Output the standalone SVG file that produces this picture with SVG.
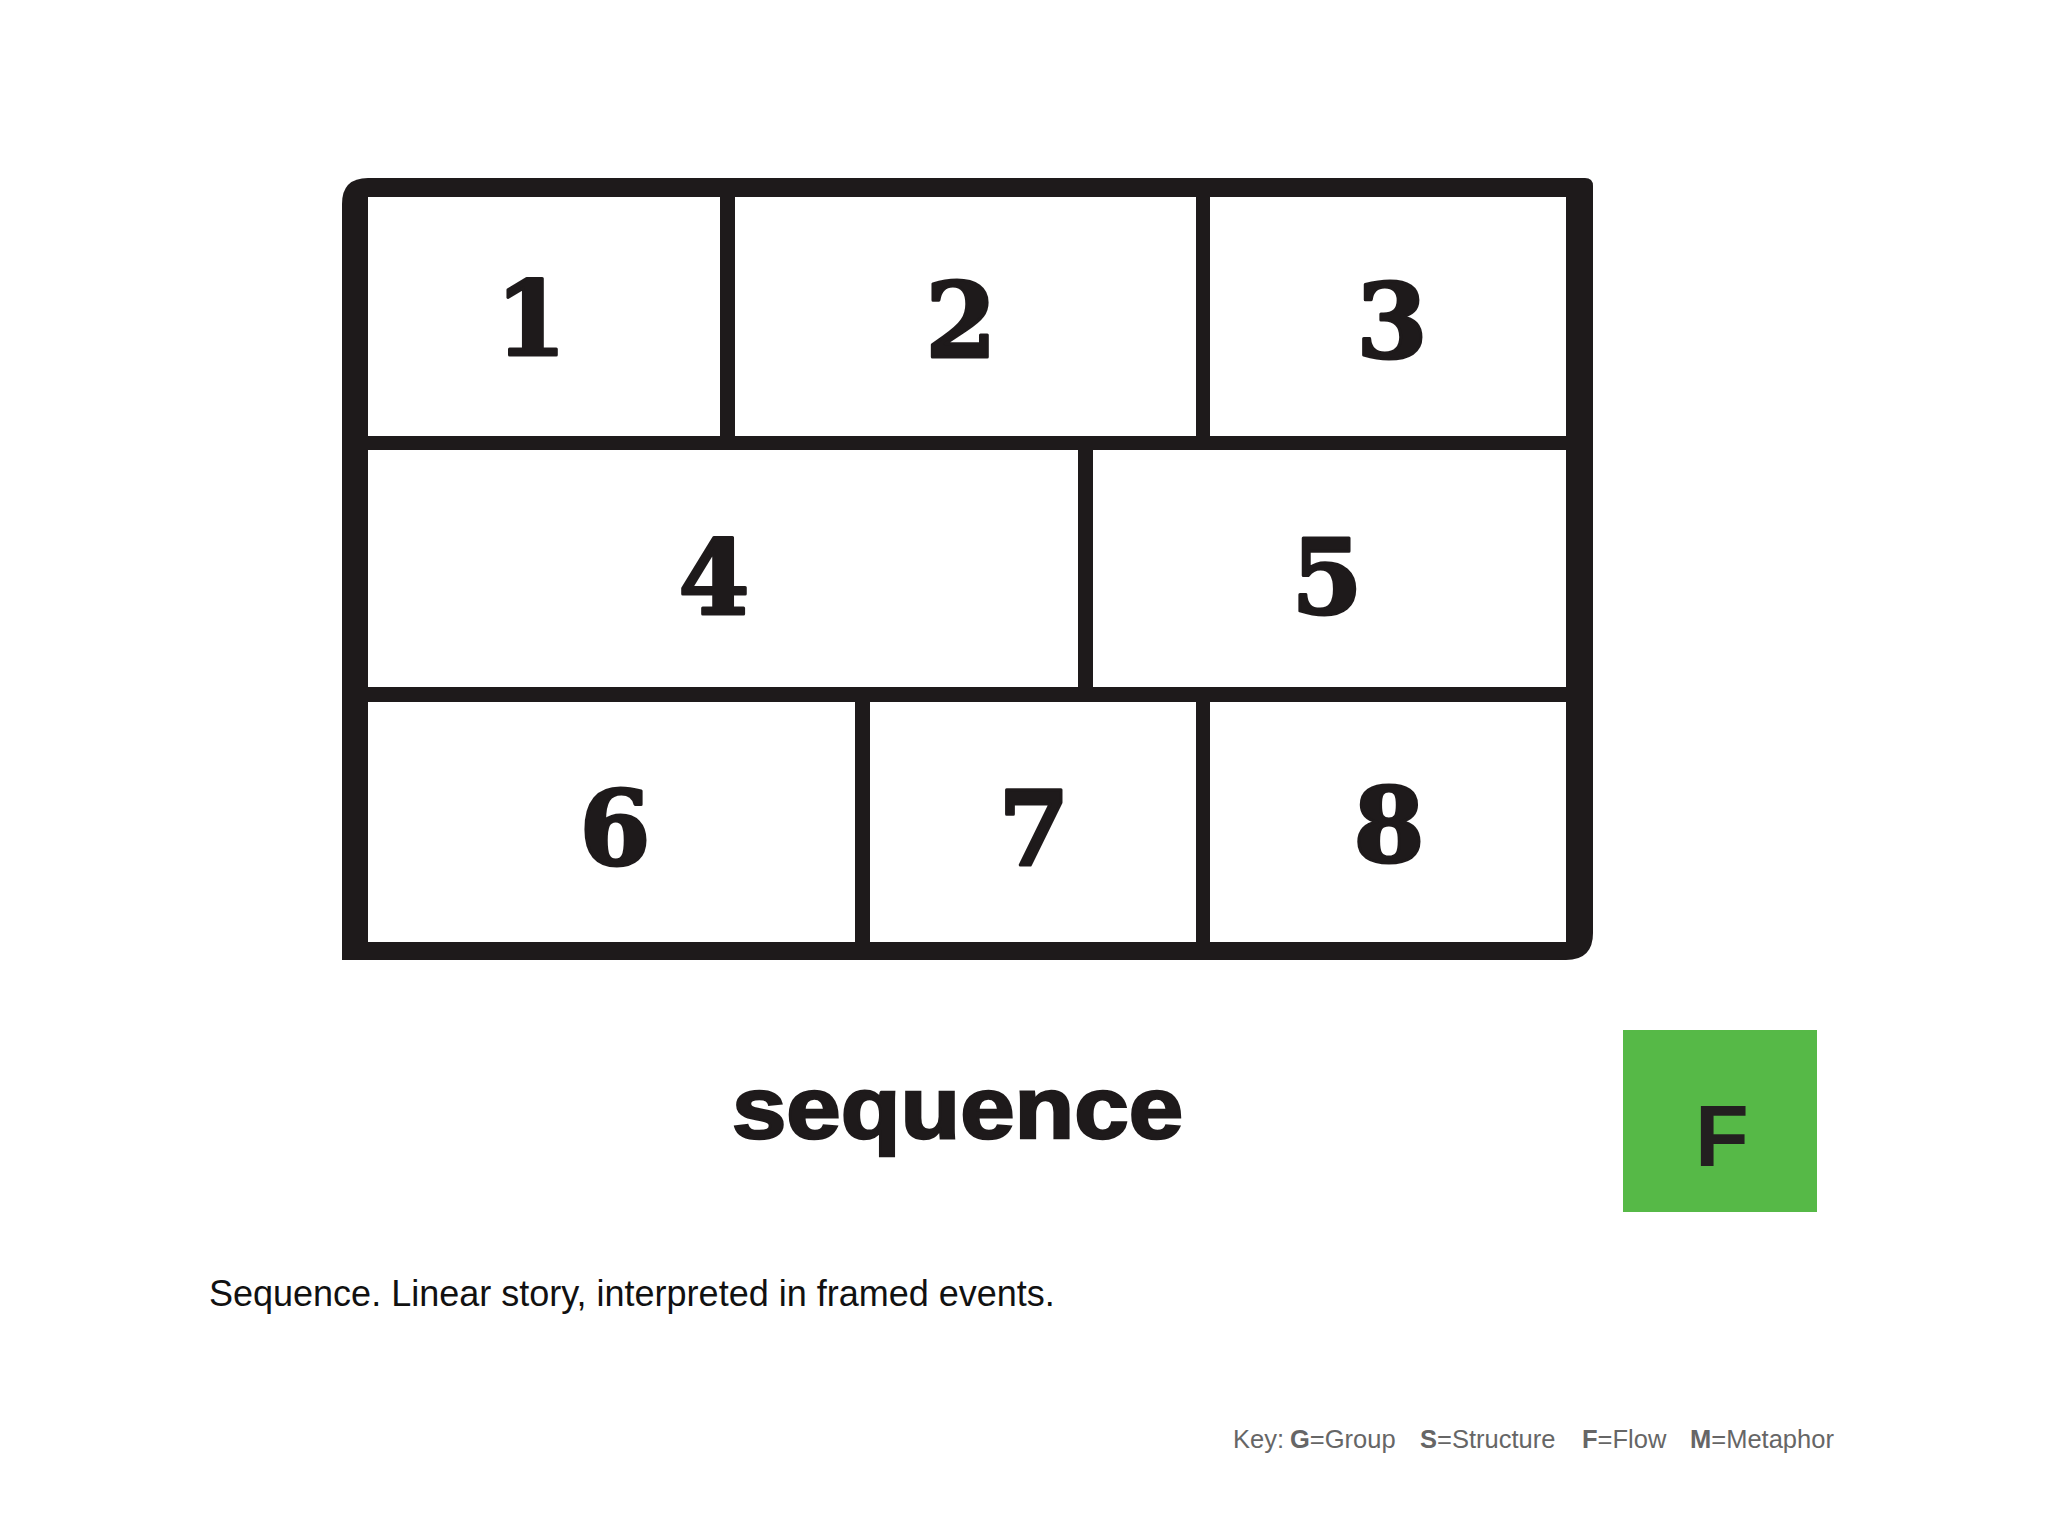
<svg xmlns="http://www.w3.org/2000/svg" width="2048" height="1536" viewBox="0 0 2048 1536">
<style>
.cell{fill:#ffffff}
.num{font-family:"DejaVu Serif",serif;font-weight:bold;font-size:102px;fill:#1e1a1b;stroke:#1e1a1b;stroke-width:3;stroke-linejoin:round;text-anchor:middle}
.cap{font-family:"Liberation Sans",Arial,sans-serif;font-size:36px;fill:#111111}
.key{font-family:"Liberation Sans",Arial,sans-serif;font-size:25.5px;fill:#666666}
.b{font-weight:bold}
</style>
<rect x="0" y="0" width="2048" height="1536" fill="#ffffff"/>
<g id="frame">
<path d="M342,204 Q342,178 368,178 L1585,178 Q1593,178 1593,186 L1593,933 Q1593,960 1566,960 L342,960 Z" fill="#1e1a1b"/>
</g>
<g id="cell1"><rect class="cell" x="368" y="197" width="352" height="239"/><text class="num" x="531" y="355">1</text></g>
<g id="cell2"><rect class="cell" x="735" y="197" width="461" height="239"/><text class="num" x="961" y="357">2</text></g>
<g id="cell3"><rect class="cell" x="1210" y="197" width="356" height="239"/><text class="num" x="1392" y="358">3</text></g>
<g id="cell4"><rect class="cell" x="368" y="450" width="710" height="237"/><text class="num" x="714" y="614">4</text></g>
<g id="cell5"><rect class="cell" x="1093" y="450" width="473" height="237"/><text class="num" x="1327" y="614">5</text></g>
<g id="cell6"><rect class="cell" x="368" y="702" width="487" height="240"/><text class="num" x="615" y="865">6</text></g>
<g id="cell7"><rect class="cell" x="870" y="702" width="326" height="240"/><text class="num" x="1034" y="865">7</text></g>
<g id="cell8"><rect class="cell" x="1210" y="702" width="356" height="240"/><text class="num" x="1389" y="862">8</text></g>
<g id="title"><text x="732" y="1138" font-family="'Liberation Sans',Arial,sans-serif" font-weight="bold" font-size="88" fill="#1e1a1b" stroke="#1e1a1b" stroke-width="2.5" textLength="451" lengthAdjust="spacingAndGlyphs">sequence</text></g>
<g id="badge"><rect x="1623" y="1030" width="194" height="182" fill="#56b947"/><text x="1722" y="1166" font-family="'Liberation Sans',Arial,sans-serif" font-weight="bold" font-size="88" fill="#231f20" text-anchor="middle">F</text></g>
<g id="caption"><text class="cap" x="209" y="1306">Sequence. Linear story, interpreted in framed events.</text></g>
<g id="key"><text class="key" y="1448"><tspan x="1233">Key: </tspan><tspan x="1290" class="b">G</tspan><tspan>=Group</tspan><tspan x="1420" class="b">S</tspan><tspan>=Structure</tspan><tspan x="1582" class="b">F</tspan><tspan>=Flow</tspan><tspan x="1690" class="b">M</tspan><tspan>=Metaphor</tspan></text></g>
</svg>
